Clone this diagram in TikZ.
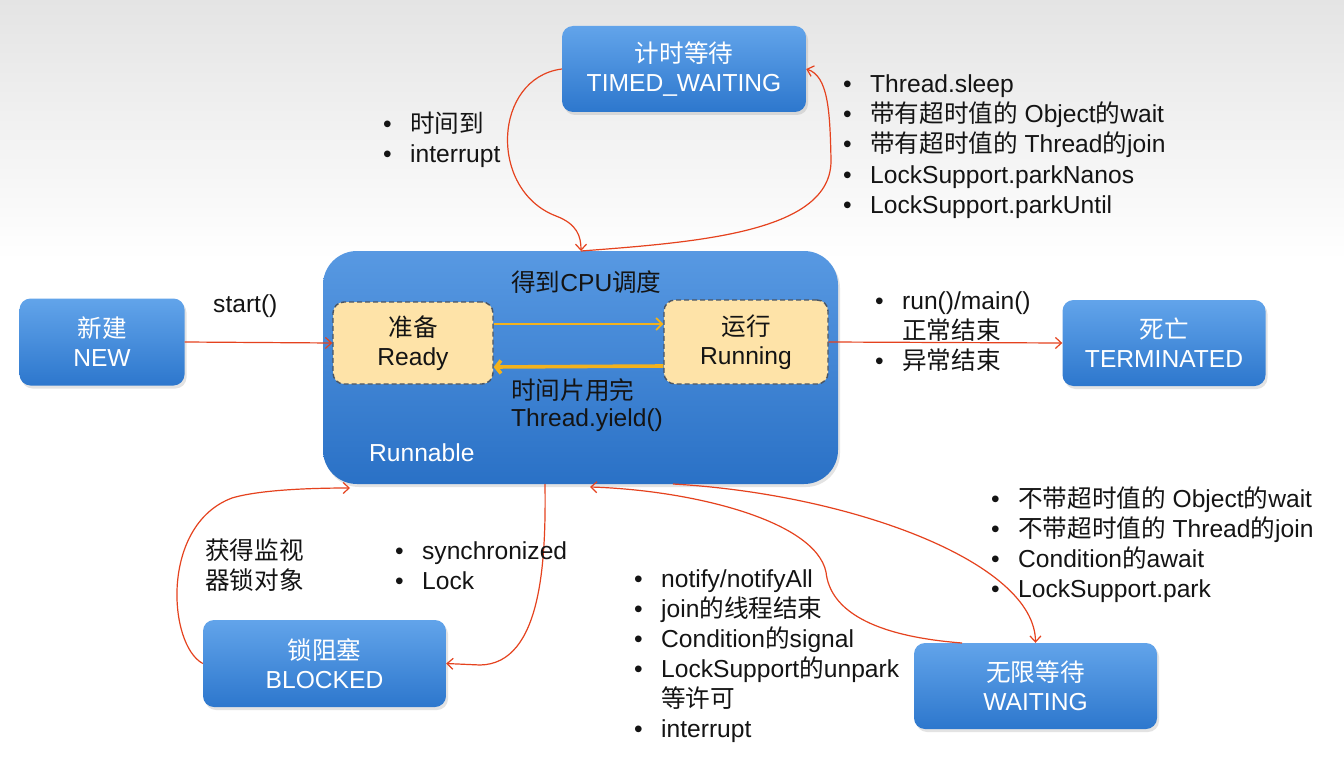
\documentclass[tikz,border=0pt]{standalone}
\usepackage{fontspec}
\setmainfont{Liberation Sans}
\newfontfamily\cjk{Noto Sans CJK SC}
\newcommand\zh[1]{{\cjk #1}}
\newcommand\bul{\makebox[27pt][l]{•}}
\usetikzlibrary{arrows.meta,shadows}
\definecolor{bluetop}{HTML}{62A4EA}
\definecolor{bluebot}{HTML}{2D77CD}
\definecolor{bigtop}{HTML}{5899E2}
\definecolor{bigbot}{HTML}{2A71C6}
\definecolor{arrowred}{HTML}{E5421E}
\definecolor{readyfill}{HTML}{FEE3A8}
\definecolor{readyline}{HTML}{4A5563}
\definecolor{goldarrow}{HTML}{F3B21C}
\definecolor{textdark}{HTML}{141414}
\definecolor{bggrey}{HTML}{E4E4E4}
\begin{document}
\begin{tikzpicture}[x=1pt,y=-1pt,
  every node/.style={font=\fontsize{24.6}{29}\selectfont},
  state/.style={rounded corners=11pt, top color=bluetop, bottom color=bluebot, text=white,
    align=center, inner sep=0pt, drop shadow={opacity=0.22, shadow xshift=2pt, shadow yshift=-3pt}},
  bigbox/.style={rounded corners=34pt, top color=bigtop, bottom color=bigbot,
    inner sep=0pt, drop shadow={opacity=0.22, shadow xshift=2pt, shadow yshift=-3pt}},
  substate/.style={rounded corners=11pt, fill=readyfill, draw=readyline, line width=1.4pt,
    dash pattern=on 5pt off 3pt, text=textdark, align=center, inner sep=0pt},
  txt/.style={text=textdark, anchor=base west, inner sep=0pt},
  redarrow/.style={draw=arrowred, line width=1.2pt, -{Straight Barb[length=6pt,width=11pt]}},
  goldthin/.style={draw=goldarrow, line width=1.8pt, -{Straight Barb[length=6pt,width=12pt]}},
  goldthick/.style={draw=goldarrow, line width=3.6pt, -{Straight Barb[length=5pt,width=13pt]}}
]
\useasboundingbox (0,0) rectangle (1344,781);
\fill[white] (0,0) rectangle (1344,781);
\shade[top color=bggrey, bottom color=white] (0,0) rectangle (1344,260);

% states
\node[state, minimum width=244pt, minimum height=86pt] (tw) at (684,69) {\zh{计时等待}\\TIMED\_WAITING};
\node[state, minimum width=165pt, minimum height=87pt] (new) at (102,342) {\zh{新建}\\NEW};
\node[bigbox, minimum width=515pt, minimum height=233pt] (run) at (580.5,367.5) {};
\node[substate, minimum width=160pt, minimum height=82pt] (ready) at (413,343) {\zh{准备}\\Ready};
\node[substate, minimum width=164pt, minimum height=84pt] (running) at (746,342) {\zh{运行}\\Running};
\node[state, minimum width=203pt, minimum height=86pt] (term) at (1164,343) {\zh{死亡}\\TERMINATED};
\node[state, minimum width=243pt, minimum height=87pt] (bl) at (324.5,663.5) {\zh{锁阻塞}\\BLOCKED};
\node[state, minimum width=243pt, minimum height=86pt] (wt) at (1035.5,686) {\zh{无限等待}\\WAITING};

% texts inside runnable
\node[txt] (t1) at (511,291) {\zh{得到}CPU\zh{调度}};
\node[txt] (t2) at (511,399) {\zh{时间片用完}};
\node[txt] (t3) at (511,426) {Thread.yield()};
\node[txt, text=white] (t4) at (369,461) {Runnable};

% free coordinates on runnable border
\coordinate (rtop) at (581,251);
\coordinate (rb1) at (545,484);
\coordinate (rbl) at (350,488);
\coordinate (rb2) at (673,484);
\coordinate (rb3) at (590,487);
\coordinate (wtl) at (962,643);

% arrows
\draw[redarrow] (new.east) -- (ready.west);
\draw[redarrow] (running.east) -- (term.west);
\draw[goldthin] ([yshift=19pt]ready.east) -- ([yshift=18pt]running.west);
\draw[goldthick] ([yshift=-24pt]running.west) -- ([yshift=-24pt]ready.east);
\draw[redarrow] (tw.west) .. controls (493,78) and (488,190) .. (556,216) .. controls (577,224) and (581,236) .. (rtop);
\draw[redarrow] (rtop) .. controls (700,242) and (832,232) .. (831,160) .. controls (830,110) and (828,76) .. (tw.east);
\draw[redarrow] (rb1) .. controls (546,560) and (542,664) .. (480,665) -- (bl.east);
\draw[redarrow] (bl.west) .. controls (168,645) and (160,525) .. (232,498) .. controls (262,489) and (320,488) .. (rbl);
\draw[redarrow] (rb2) .. controls (850,494) and (1035,562) .. (wt.north);
\draw[redarrow] (wtl) .. controls (872,636) and (830,610) .. (826,572) .. controls (815,520) and (690,490) .. (rb3);

% labels
\node[txt] (l1) at (213,312) {start()};
\node[txt] (l2a) at (383,132) {\bul\zh{时间到}};
\node[txt] (l2b) at (383,162) {\bul interrupt};
\node[txt] (l3a) at (843,93) {\bul Thread.sleep};
\node[txt] (l3b) at (843,123) {\bul\zh{带有超时值的} Object\zh{的}wait};
\node[txt] (l3c) at (843,153) {\bul\zh{带有超时值的} Thread\zh{的}join};
\node[txt] (l3d) at (843,183) {\bul LockSupport.parkNanos};
\node[txt] (l3e) at (843,213) {\bul LockSupport.parkUntil};
\node[txt] (l4a) at (875,309) {\bul run()/main()};
\node[txt] (l4b) at (902,339) {\zh{正常结束}};
\node[txt] (l4c) at (875,369) {\bul\zh{异常结束}};
\node[txt] (l5a) at (205,559) {\zh{获得监视}};
\node[txt] (l5b) at (205,589) {\zh{器锁对象}};
\node[txt] (l6a) at (395,559) {\bul synchronized};
\node[txt] (l6b) at (395,589) {\bul Lock};
\node[txt] (l7a) at (634,587) {\bul notify/notifyAll};
\node[txt] (l7b) at (634,617) {\bul join\zh{的线程结束}};
\node[txt] (l7c) at (634,647) {\bul Condition\zh{的}signal};
\node[txt] (l7d) at (634,677) {\bul LockSupport\zh{的}unpark};
\node[txt] (l7e) at (661,707) {\zh{等许可}};
\node[txt] (l7f) at (634,737) {\bul interrupt};
\node[txt] (l8a) at (991,507) {\bul\zh{不带超时值的} Object\zh{的}wait};
\node[txt] (l8b) at (991,537) {\bul\zh{不带超时值的} Thread\zh{的}join};
\node[txt] (l8c) at (991,567) {\bul Condition\zh{的}await};
\node[txt] (l8d) at (991,597) {\bul LockSupport.park};
\end{tikzpicture}
\end{document}
